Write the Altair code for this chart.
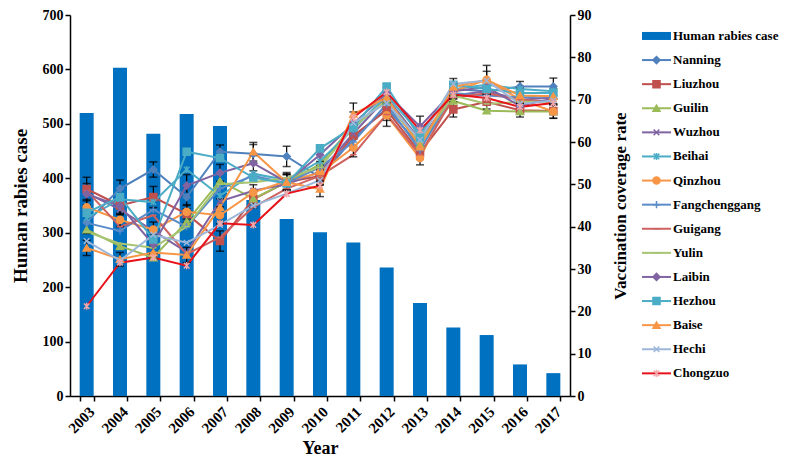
import altair as alt
import pandas as pd

years = [str(y) for y in range(2003, 2018)]
cases = [520, 603, 482, 518, 496, 360, 325, 301, 282, 236, 171, 126, 112, 58, 42]

cities = ["Nanning", "Liuzhou", "Guilin", "Wuzhou", "Beihai", "Qinzhou", "Fangchenggang",
          "Guigang", "Yulin", "Laibin", "Hezhou", "Baise", "Hechi", "Chongzuo"]

nanning = [41.0, 49.0, 53.5, 47.0, 57.7, 57.2, 56.6, 51.6, 60.8, 68.0, 59.0, 72.5, 72.0, 73.1, 73.1]
liuzhou = [48.9, 45.0, 47.0, 43.0, 36.6, 46.5, 50.5, 52.0, 61.5, 67.5, 57.5, 67.7, 69.5, 67.5, 67.3]
guilin = [39.3, 35.4, 32.7, 41.2, 50.8, 46.6, 50.5, 54.7, 64.0, 69.5, 59.5, 69.7, 67.4, 67.2, 67.2]
wuzhou = [48.0, 44.0, 39.0, 34.0, 46.0, 48.5, 50.0, 53.0, 62.0, 70.5, 60.5, 71.0, 72.0, 70.0, 70.5]
beihai = [42.0, 46.5, 45.8, 53.5, 47.3, 52.5, 51.0, 55.5, 63.0, 71.0, 62.0, 72.5, 73.5, 72.5, 72.0]
qinzhou = [44.6, 41.6, 39.3, 43.5, 42.7, 48.1, 50.8, 52.7, 58.7, 66.3, 56.2, 72.0, 74.7, 70.0, 67.2]
fangchenggang = [40.9, 39.0, 44.0, 40.0, 49.0, 52.0, 50.3, 54.0, 60.0, 69.0, 58.0, 71.5, 71.0, 70.5, 70.8]
guigang = [48.5, 40.0, 42.7, 33.5, 37.5, 44.6, 49.0, 52.0, 57.0, 66.5, 57.0, 70.5, 71.5, 70.0, 69.5]
yulin = [38.8, 36.0, 35.0, 40.0, 50.0, 50.5, 51.5, 54.0, 63.5, 70.0, 60.0, 71.0, 69.0, 69.5, 69.5]
laibin = [47.7, 44.9, 35.8, 49.7, 52.7, 55.0, 50.5, 57.0, 64.3, 71.5, 63.7, 72.0, 73.0, 68.5, 70.3]
hezhou = [43.3, 47.0, 37.0, 57.7, 56.2, 51.6, 50.2, 58.5, 63.5, 73.1, 61.0, 73.5, 72.5, 71.6, 71.6]
baise = [35.0, 32.3, 33.9, 33.3, 44.6, 57.7, 50.5, 48.9, 66.6, 70.5, 58.9, 73.0, 74.7, 71.0, 70.8]
hechi = [36.6, 32.0, 38.1, 36.2, 40.4, 45.0, 47.8, 51.0, 64.5, 69.2, 60.5, 73.7, 74.5, 69.0, 69.8]
chongzuo = [21.2, 31.5, 32.7, 30.8, 40.8, 40.4, 47.8, 49.7, 65.8, 71.8, 62.8, 71.2, 70.4, 68.3, 69.2]

series = [nanning, liuzhou, guilin, wuzhou, beihai, qinzhou, fangchenggang,
          guigang, yulin, laibin, hezhou, baise, hechi, chongzuo]

# error bar half-widths for a few series
err_liuzhou = [2.8, 2.2, 2.5, 2.0, 2.4, 2.0, 1.8, 2.0, 2.5, 2.4, 1.6, 1.8, 1.7, 1.6, 1.7]
err_laibin = [2.5, 2.0, 2.2, 2.6, 2.0, 1.8, 2.0, 1.6, 2.8, 2.2, 2.4, 1.8, 1.6, 1.5, 1.6]
err_nanning = [2.6, 2.0, 1.8, 2.8, 1.6, 2.2, 2.4, 1.8, 2.6, 2.0, 2.0, 1.6, 2.0, 1.2, 2.0]
err_baise = [1.8, 1.6, 1.6, 1.8, 2.0, 2.2, 1.8, 1.8, 2.6, 2.4, 1.8, 2.0, 3.4, 1.8, 1.8]
err_qinzhou = [1.8, 1.6, 1.8, 1.7, 2.0, 1.8, 2.0, 1.8, 2.2, 2.6, 1.6, 1.8, 2.0, 1.8, 1.6]

line_colors = ["#4F81BD", "#C0504D", "#9BBB59", "#8064A2", "#4BACC6", "#F79646", "#5B8BC9",
               "#CD6260", "#A6C472", "#8064A2", "#4BACC6", "#F79646", "#9DB7DA", "#E8121A"]
marker_colors = ["#4F81BD", "#C0504D", "#9BBB59", "#8064A2", "#4BACC6", "#F79646", "#5B8BC9",
                 "#CD6260", "#A6C472", "#8064A2", "#4BACC6", "#F79646", "#9DB7DA", "#F2A7AB"]
X_PATH = "M-0.8,-0.8L0.8,0.8M-0.8,0.8L0.8,-0.8"
AST_PATH = "M-0.8,-0.8L0.8,0.8M-0.8,0.8L0.8,-0.8M0,-1L0,1"
PLUS_PATH = "M0,-1L0,1M-1,0L1,0"
DASH_PATH = "M-0.9,0L0.9,0"
shapes = ["diamond", "square", "triangle-up", X_PATH, AST_PATH, "circle", PLUS_PATH,
          DASH_PATH, DASH_PATH, "diamond", "square", "triangle-up", X_PATH, AST_PATH]

BAR_COLOR = "#0070C0"
FONT = "Liberation Serif"

bars_df = pd.DataFrame({"year": years, "cases": cases})

rows = []
for c, vals in zip(cities, series):
    for y, v in zip(years, vals):
        rows.append({"city": c, "year": y, "rate": v})
lines_df = pd.DataFrame(rows)

err_rows = []
for c, vals, errs in [("Liuzhou", liuzhou, err_liuzhou), ("Laibin", laibin, err_laibin),
                      ("Nanning", nanning, err_nanning), ("Baise", baise, err_baise),
                      ("Qinzhou", qinzhou, err_qinzhou)]:
    for y, v, e in zip(years, vals, errs):
        err_rows.append({"city": c, "year": y, "lo": v - e, "hi": v + e})
err_df = pd.DataFrame(err_rows)

xscale = alt.Scale(domain=years, paddingInner=0.58, paddingOuter=0.29)
xenc = alt.X("year:N", scale=xscale, title="Year",
             axis=alt.Axis(labelAngle=-45, labelAlign="right", labelBaseline="top",
                           tickBand="extent", labelFontSize=15, titleFontSize=18,
                           titlePadding=4, labelPadding=3))

bars = alt.Chart(bars_df).mark_bar(color=BAR_COLOR).encode(
    x=xenc,
    y=alt.Y("cases:Q", scale=alt.Scale(domain=[0, 700]), title="Human rabies case",
            axis=alt.Axis(values=list(range(0, 701, 100)), titleFontSize=19,
                          labelFontSize=14, titlePadding=12)),
)

yright = alt.Y("rate:Q", scale=alt.Scale(domain=[0, 90]), title="Vaccination coverage rate",
               axis=alt.Axis(orient="right", values=list(range(0, 91, 10)), titleFontSize=17,
                             labelFontSize=14, titleAngle=270, titlePadding=38))

lines = alt.Chart(lines_df).mark_line(strokeWidth=2).encode(
    x=alt.X("year:N", scale=xscale),
    y=yright,
    color=alt.Color("city:N", scale=alt.Scale(domain=cities, range=line_colors), legend=None),
    detail="city:N",
)

errs_rule = alt.Chart(err_df).mark_rule(color="black", strokeWidth=1.2).encode(
    x=alt.X("year:N", scale=xscale),
    y=alt.Y("lo:Q", scale=alt.Scale(domain=[0, 90])),
    y2="hi:Q",
)
errs_lo = alt.Chart(err_df).mark_tick(color="black", size=8, thickness=1.5).encode(
    x=alt.X("year:N", scale=xscale),
    y=alt.Y("lo:Q", scale=alt.Scale(domain=[0, 90])),
)
errs_hi = alt.Chart(err_df).mark_tick(color="black", size=8, thickness=1.5).encode(
    x=alt.X("year:N", scale=xscale),
    y=alt.Y("hi:Q", scale=alt.Scale(domain=[0, 90])),
)

points = alt.Chart(lines_df).mark_point(filled=True, size=50, strokeWidth=1.5, opacity=1).encode(
    x=alt.X("year:N", scale=xscale),
    y=alt.Y("rate:Q", scale=alt.Scale(domain=[0, 90])),
    fill=alt.Fill("city:N", scale=alt.Scale(domain=cities, range=marker_colors), legend=None),
    stroke=alt.Stroke("city:N", scale=alt.Scale(domain=cities, range=marker_colors), legend=None),
    shape=alt.Shape("city:N", scale=alt.Scale(domain=cities, range=shapes), legend=None),
)

right_layer = alt.layer(lines, errs_rule, errs_lo, errs_hi, points)

main = alt.layer(bars, right_layer).resolve_scale(y="independent").properties(
    width=500, height=381)

# manual legend
leg_names = ["Human rabies case"] + cities
leg_df = pd.DataFrame({"name": leg_names, "i": list(range(len(leg_names)))})
city_leg = leg_df[leg_df["i"] > 0]
bar_leg = leg_df[leg_df["i"] == 0]

ly = alt.Scale(domain=[14.94, -0.87])
lx = alt.Scale(domain=[0, 110])

leg_bar = alt.Chart(bar_leg).mark_rule(color=BAR_COLOR, strokeWidth=8).encode(
    x=alt.datum(0, scale=lx, axis=None), x2=alt.datum(29),
    y=alt.Y("i:Q", scale=ly, axis=None),
)
leg_line = alt.Chart(city_leg).mark_rule(strokeWidth=2).encode(
    x=alt.datum(0, scale=lx, axis=None), x2=alt.datum(29),
    y=alt.Y("i:Q", scale=ly, axis=None),
    color=alt.Color("name:N", scale=alt.Scale(domain=cities, range=line_colors), legend=None),
)
leg_pt = alt.Chart(city_leg).mark_point(filled=True, size=50, strokeWidth=1.5, opacity=1).encode(
    x=alt.datum(14.5, scale=lx, axis=None),
    y=alt.Y("i:Q", scale=ly, axis=None),
    fill=alt.Fill("name:N", scale=alt.Scale(domain=cities, range=marker_colors), legend=None),
    stroke=alt.Stroke("name:N", scale=alt.Scale(domain=cities, range=marker_colors), legend=None),
    shape=alt.Shape("name:N", scale=alt.Scale(domain=cities, range=shapes), legend=None),
)
leg_txt = alt.Chart(leg_df).mark_text(align="left", baseline="middle", font=FONT,
                                      fontWeight="bold", fontSize=13, color="black").encode(
    x=alt.datum(31, scale=lx, axis=None),
    y=alt.Y("i:Q", scale=ly, axis=None),
    text="name:N",
)
legend = alt.layer(leg_bar, leg_line, leg_pt, leg_txt).resolve_scale(
    color="independent", fill="independent", stroke="independent", shape="independent"
).properties(width=110, height=381)

chart = alt.hconcat(main, legend, spacing=10).properties(
    padding={"left": 3, "top": 0, "right": 0, "bottom": 0},
    background="white",
).configure_view(stroke=None).configure_axis(
    labelFont=FONT, titleFont=FONT, labelFontWeight="bold", titleFontWeight="bold",
    labelColor="black", titleColor="black", domainColor="black", tickColor="black",
    domainWidth=1.5, tickWidth=1.5, tickSize=5, grid=False,
)

chart.save("out.html", embed_options={"renderer": "svg", "actions": False})
